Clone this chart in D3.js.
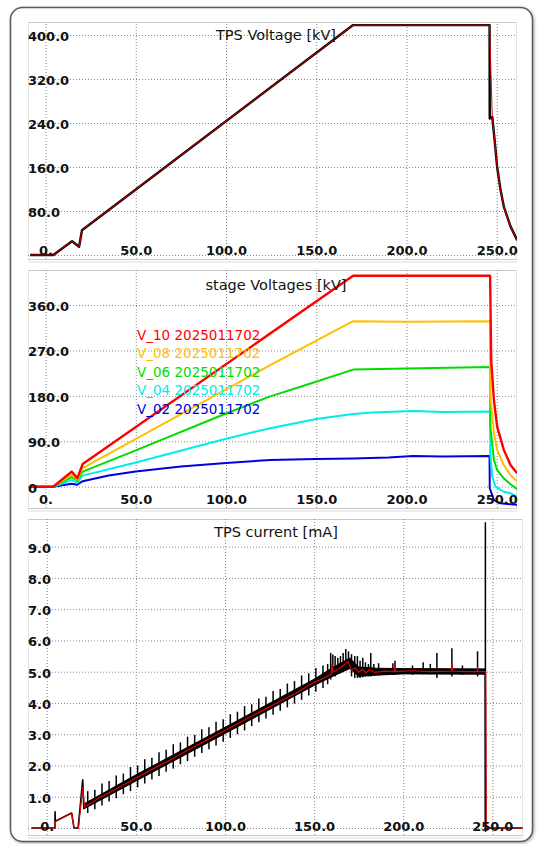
<!DOCTYPE html>
<html>
<head>
<meta charset="utf-8">
<script src="https://d3js.org/d3.v7.min.js"></script>
<style>
  html, body { margin: 0; padding: 0; background: #fff; }
  svg { display: block; }
  .tick-label { font-family: "DejaVu Sans", Verdana, sans-serif; font-size: 13px; font-weight: bold; fill: #111; }
  .title { font-family: "DejaVu Sans", Verdana, sans-serif; font-size: 14.5px; fill: #111; }
  .legend { font-family: "DejaVu Sans", Verdana, sans-serif; font-size: 13.5px; }
</style>
</head>
<body>
<svg width="537" height="844"></svg>
<script>
// x axis (time) ticks, shared by the three panels
var xTickValues = [0, 50, 100, 150, 200, 250];
var xTickLabels = ["0.", "50.0", "100.0", "150.0", "200.0", "250.0"];

// y ticks of each panel
var tpsTickValues = [0, 80, 160, 240, 320, 400];
var tpsTickLabels = ["", "80.0", "160.0", "240.0", "320.0", "400.0"];
var stageTickValues = [0, 90, 180, 270, 360];
var stageTickLabels = ["0", "90.0", "180.0", "270.0", "360.0"];
var currentTickValues = [0, 1, 2, 3, 4, 5, 6, 7, 8, 9];
var currentTickLabels = ["", "1.0", "2.0", "3.0", "4.0", "5.0", "6.0", "7.0", "8.0", "9.0"];

var panelTitles = ["TPS Voltage [kV]", "stage Voltages [kV]", "TPS current [mA]"];

// TPS voltage [kV]  (black = measured, red = set)
var tpsVoltBlack = [[-8.5,0],[4.3,0],[14.7,25],[18.6,15],[20.2,45],[170.4,418],[246,418],[246.1,248],[247.5,251],
  [248.8,209],[250.2,160],[252.1,118],[253.9,88],[257.6,52],[261.3,27]];
var tpsVoltRed = [[-8.5,0],[4.3,0],[14.7,25],[18.6,15],[20.2,45],[170.4,418],[246,418],[246.6,351],[247.5,251],
  [248.8,209],[250.2,160],[252.1,118],[253.9,88],[257.6,52],[261.3,27]];

// stage voltages [kV]
var stageNames = ["V_10 2025011702", "V_08 2025011702", "V_06 2025011702", "V_04 2025011702", "V_02 2025011702"];
var stageColors = ["#ff0000", "#ffbf00", "#00dc00", "#00ecec", "#0000e0"];
var stageV10 = [[-8.5,0],[4.3,0],[14.5,30],[17.6,17],[20.6,45],[170.4,418],[246.3,418],[246.9,251],[248.4,172],
  [250.2,119],[253.9,73],[257.6,43],[261.3,26.5]];
var stageV08 = [[-8.5,0],[4.3,0],[14.5,24],[17.6,14],[20.6,37],[124.5,241],[170.4,328],[200,327],[246.3,328],
  [246.4,185],[248.4,106],[250.2,73],[253.9,43],[257.6,23],[261.3,10]];
var stageV06 = [[-8.5,0],[4.3,0],[14.5,19],[17.6,12],[20.6,30],[50,72],[100,145],[124.5,179],[143,200],[170.4,232],
  [200,234],[246.3,237],[246.4,119],[248.4,53],[250.2,33],[253.9,16.5],[257.6,5],[261.3,-5]];
var stageV04 = [[-8.5,0],[4.3,0],[14.5,13],[17.6,8],[20.6,22],[50,48],[100,95],[124.5,116],[150,134],[170.4,144],
  [181,147],[203.5,150],[220,148],[246.3,149],[246.4,66],[247.5,20],[249.3,0],[253.9,-10],[257.6,-13],[261.3,-20]];
var stageV02 = [[-8.5,0],[4.3,0],[14.5,6],[17.6,4],[20.6,11],[35,22],[50,30],[75,40],[100,47],[124.5,53],[150,55],
  [170.4,56],[190,58],[203.5,61],[220,60],[246,61],[246.1,-3],[248.4,-26],[252,-33],[261.3,-36]];
var stageSeries = [stageV10, stageV08, stageV06, stageV04, stageV02];

// TPS current [mA]  (black = raw, red = filtered)
var currentRed = [[-8.5,0],[4.6,0],[4.8,0.2],[14,0.47],[15.3,0],[17.8,0],[20.2,1.3],[21.2,0.66],[30,0.98],[40,1.28],
  [50,1.6],[60,1.9],[70,2.2],[80,2.52],[90,2.82],[100,3.12],[110,3.42],[120,3.73],[130,4.02],[140,4.32],[150,4.66],
  [155,4.78],[159.5,4.92],[160,5.25],[160.5,4.98],[164,5.1],[167,5.22],[169,5.33],[171,5.05],[173,5.12],[175,4.98],
  [177,5.08],[179,4.96],[181,5.06],[184,4.98],[190,5.02],[195,5.0],[195.4,5.22],[195.8,5.0],[205,5.03],[215,5.0],
  [227,5.02],[227.3,5.28],[227.6,5.02],[235,5.0],[241.5,5.0],[241.7,5.14],[242,5.0],[246.3,5.0],[246.6,0],[267,0]];
// raw trace
var currentBlack = [[-8.5,0],[4.6,0],[4.7,0.52],[4.8,0.22],[14,0.48],[15.3,0],[17.6,0],[20.2,1.54],[20.8,0.62],
  [21.2,0.7],[30,0.98],[40,1.28],[50,1.6],[60,1.9],[70,2.2],[80,2.52],[90,2.82],[100,3.12],[110,3.42],[120,3.73],
  [130,4.02],[140,4.32],[150,4.66],[160,4.98],[165,5.15],[170,5.3],[173,5.1],[176,5.0],[180,5.05],[185,5.0],
  [200,5.02],[220,5.0],[246,5.0],[246.2,-0.1],[246.5,0],[267,0]];
// noise envelope of the raw trace: [x, upper, lower]
var currentNoiseBand = [[21.2,0.78,0.62],[50,1.7,1.5],[100,3.22,3.02],[150,4.76,4.56],[160,5.12,4.84],
  [170,5.44,5.1],[175,5.15,4.85],[185,5.11,4.89],[200,5.1,4.93],[246,5.09,4.92]];
// spikes of the raw trace: [x, top, bottom]
var currentSpikes = [[23,1.18,0.48],[27,1.22,0.6],[31,1.42,0.72],[35,1.5,0.85],[39,1.68,0.95],[43,1.74,1.08],
  [47,1.95,1.18],[51,2.0,1.3],[55,2.2,1.42],[59,2.25,1.55],[63,2.42,1.66],[67,2.5,1.8],[71,2.68,1.9],[75,2.74,2.04],
  [79,2.92,2.14],[83,2.98,2.28],[87,3.16,2.4],[91,3.22,2.52],[95,3.4,2.64],[99,3.48,2.76],[103,3.64,2.88],
  [107,3.72,3.0],[111,3.9,3.12],[115,3.96,3.26],[119,4.14,3.38],[123,4.2,3.5],[127,4.38,3.62],[131,4.45,3.75],
  [135,4.62,3.86],[139,4.7,3.98],[143,4.88,4.1],[147,4.95,4.24],[151,5.12,4.36],[155,5.2,4.48],[157.6,5.25,4.6],
  [159.3,5.6,4.75],[160.5,5.55,4.9],[161.8,5.5,4.85],[163.3,5.45,4.95],[164.8,5.5,4.95],[166.3,5.6,5.0],
  [167.8,5.73,5.05],[169.3,5.65,5.1],[171,5.56,4.85],[172.8,5.5,4.8],[174.3,5.5,4.8],[175.8,5.35,4.8],
  [177.3,5.45,4.82],[178.8,5.3,4.85],[180.5,5.25,4.85],[181.8,5.6,4.85],[183.5,5.25,4.88],[186.2,5.27,4.88],
  [194.2,5.27,4.9],[195.4,5.35,4.9],[205.2,5.2,4.9],[211.2,5.3,4.92],[215.2,5.25,4.92],[218.9,5.6,4.8],
  [227.3,5.75,4.85],[233.2,5.2,4.9],[241.7,5.65,4.85],[246.1,9.78,-0.1]];

var app = app || {};

app.main = (function(){

  var svg;

  // draws one panel: frame lines, dotted grid, tick labels, title
  function drawPanel(p, yTickValues, yTickLabels, title, id){

    var x = d3.scaleLinear().domain(p.xDomain).range([p.x0, p.x1]);
    var y = d3.scaleLinear().domain(p.yDomain).range([p.y1, p.y0]);

    var g = svg.append("g").attr("class", "panel");

    // light gray frame lines around the plot
    g.append("line").attr("x1", p.x0).attr("x2", p.x1).attr("y1", p.y0 + 0.5).attr("y2", p.y0 + 0.5)
      .attr("stroke", "#c8c8c8");
    g.append("line").attr("x1", p.x0).attr("x2", p.x1).attr("y1", p.y1 + 0.5).attr("y2", p.y1 + 0.5)
      .attr("stroke", "#c8c8c8");
    g.append("line").attr("x1", p.x0).attr("x2", p.x1).attr("y1", p.y1 + 3).attr("y2", p.y1 + 3)
      .attr("stroke", "#dcdcdc");
    g.append("line").attr("x1", p.x0 + 0.5).attr("x2", p.x0 + 0.5).attr("y1", p.y0).attr("y2", p.y1)
      .attr("stroke", "#e4e4e4");
    g.append("line").attr("x1", p.x1 - 0.5).attr("x2", p.x1 - 0.5).attr("y1", p.y0).attr("y2", p.y1)
      .attr("stroke", "#e4e4e4");

    // dotted grid
    g.append("g")
      .attr("transform", "translate(0," + p.y1 + ")")
      .call(d3.axisBottom(x).tickValues(xTickValues).tickSize(-(p.y1 - p.y0)).tickFormat(""))
      .call(function(a){ a.select(".domain").remove(); });
    g.append("g")
      .attr("transform", "translate(" + p.x0 + ",0)")
      .call(d3.axisLeft(y).tickValues(yTickValues).tickSize(-(p.x1 - p.x0)).tickFormat(""))
      .call(function(a){ a.select(".domain").remove(); });
    g.selectAll(".tick line")
      .attr("stroke", "#8a8a8a")
      .attr("stroke-width", 1)
      .attr("stroke-dasharray", "1,2");

    // clip for the data lines
    svg.append("clipPath").attr("id", id)
      .append("rect").attr("x", p.x0).attr("y", p.y0).attr("width", p.x1 - p.x0).attr("height", p.y1 - p.y0);

    var lines = svg.append("g").attr("clip-path", "url(#" + id + ")");
    var labels = svg.append("g");

    // x labels sit inside the plot, along the bottom
    labels.append("g")
      .attr("transform", "translate(0," + p.y1 + ")")
      .call(d3.axisBottom(x).tickValues(xTickValues).tickSize(0)
        .tickFormat(function(d, i){ return xTickLabels[i]; }))
      .call(function(a){
        a.select(".domain").remove();
        a.selectAll("text").attr("class", "tick-label").attr("y", -4).attr("dy", null)
          .attr("fill", null).attr("font-size", null).attr("font-family", null);
      });

    // y labels, left aligned at the plot edge
    labels.append("g")
      .attr("transform", "translate(" + p.x0 + ",0)")
      .call(d3.axisLeft(y).tickValues(yTickValues).tickSize(0)
        .tickFormat(function(d, i){ return yTickLabels[i]; }))
      .call(function(a){
        a.select(".domain").remove();
        a.selectAll("text").attr("class", "tick-label").attr("x", 0).attr("dy", "0.42em")
          .attr("text-anchor", "start").attr("fill", null).attr("font-size", null).attr("font-family", null);
      });

    labels.append("text")
      .attr("class", "title")
      .attr("x", 276)
      .attr("y", p.y0 + p.titleDy)
      .attr("text-anchor", "middle")
      .text(title);

    return {x: x, y: y, lines: lines, labels: labels};
  }

  function drawLine(panel, data, color, width){
    var line = d3.line()
      .x(function(d){ return panel.x(d[0]); })
      .y(function(d){ return panel.y(d[1]); });
    panel.lines.append("path")
      .datum(data)
      .attr("fill", "none")
      .attr("stroke", color)
      .attr("stroke-width", width)
      .attr("stroke-linejoin", "round")
      .attr("d", line);
  }

  var init = function(){

    svg = d3.select("svg");

    // outer rounded frame with a soft shadow
    var defs = svg.append("defs");
    var f = defs.append("filter").attr("id", "shadow").attr("x", "-5%").attr("y", "-5%")
      .attr("width", "110%").attr("height", "110%");
    f.append("feDropShadow").attr("dx", 1).attr("dy", 1).attr("stdDeviation", 1.5)
      .attr("flood-color", "#000").attr("flood-opacity", 0.35);
    svg.append("rect")
      .attr("x", 10.5).attr("y", 7.5).attr("width", 522).attr("height", 834).attr("rx", 12)
      .attr("fill", "#fff").attr("stroke", "#5a5a5a").attr("stroke-width", 1.5)
      .attr("filter", "url(#shadow)");

    var top = drawPanel({x0: 28, x1: 517, y0: 22, y1: 259, xDomain: [-9.7, 261.2], yDomain: [-7.3, 423.6], titleDy: 18},
      tpsTickValues, tpsTickLabels, panelTitles[0], "clipTop");
    drawLine(top, tpsVoltBlack, "#000", 2.4);
    drawLine(top, tpsVoltRed, "#d40000", 1);

    var mid = drawPanel({x0: 28, x1: 517, y0: 270, y1: 508, xDomain: [-9.7, 261.2], yDomain: [-42.2, 429.4], titleDy: 20},
      stageTickValues, stageTickLabels, panelTitles[1], "clipMid");
    for (var i = stageSeries.length - 1; i >= 0; i--) {
      drawLine(mid, stageSeries[i], stageColors[i], i === 0 ? 2.4 : 2);
    }
    mid.labels.selectAll(".legend")
      .data(stageNames)
      .enter().append("text")
      .attr("class", "legend")
      .attr("x", 137)
      .attr("y", function(d, i){ return 340 + i * 18.4; })
      .attr("fill", function(d, i){ return stageColors[i]; })
      .text(function(d){ return d; });

    var bot = drawPanel({x0: 28, x1: 523, y0: 519, y1: 835, xDomain: [-10.5, 267.2], yDomain: [-0.224, 9.885], titleDy: 18},
      currentTickValues, currentTickLabels, panelTitles[2], "clipBot");

    // noise band of the raw current
    var band = d3.area()
      .x(function(d){ return bot.x(d[0]); })
      .y0(function(d){ return bot.y(d[2]); })
      .y1(function(d){ return bot.y(d[1]); });
    bot.lines.append("path")
      .datum(currentNoiseBand)
      .attr("fill", "#000")
      .attr("stroke", "#000")
      .attr("stroke-width", 1)
      .attr("d", band);
    drawLine(bot, currentBlack, "#000", 1.6);
    bot.lines.selectAll(".spike")
      .data(currentSpikes)
      .enter().append("line")
      .attr("class", "spike")
      .attr("x1", function(d){ return bot.x(d[0]); })
      .attr("x2", function(d){ return bot.x(d[0]); })
      .attr("y1", function(d){ return bot.y(d[1]); })
      .attr("y2", function(d){ return bot.y(d[2]); })
      .attr("stroke", "#000")
      .attr("stroke-width", 1.5);
    drawLine(bot, currentRed, "#e00000", 1.2);
  };

  return {
    init: init
  };
})();

window.addEventListener('DOMContentLoaded', app.main.init);
</script>
</body>
</html>
